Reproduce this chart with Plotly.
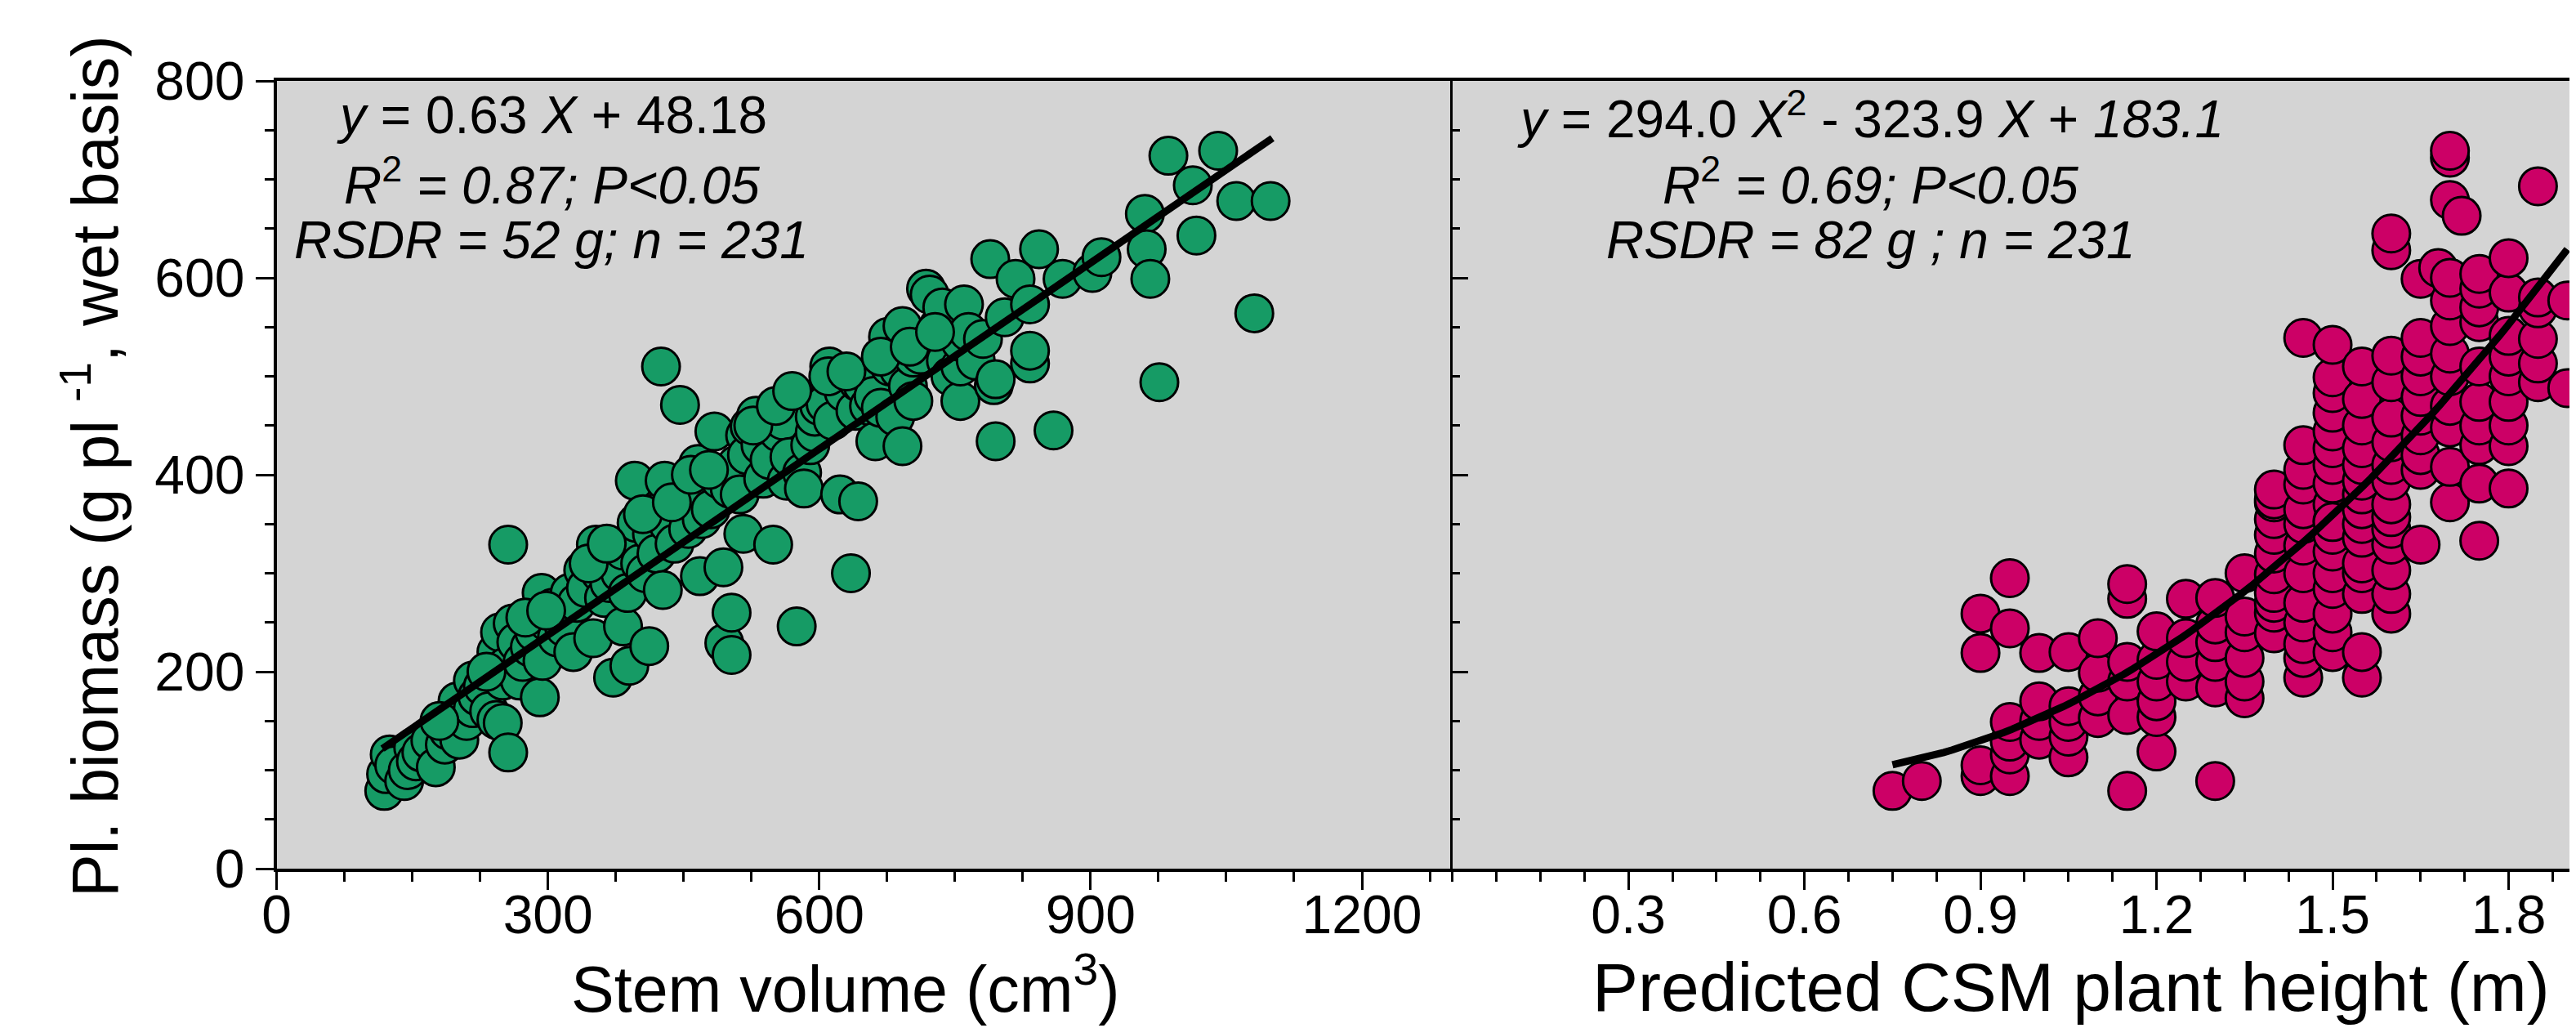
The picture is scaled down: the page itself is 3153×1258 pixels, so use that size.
import numpy as np
import plotly.graph_objects as go

# left panel: stem volume (cm3) vs plant biomass (g)
stem_volume = [119, 121, 125, 130, 141, 145, 151, 154, 160, 170, 176, 186, 190, 200, 202, 210, 217, 217,
               222, 228, 235, 243, 243, 247, 250, 250, 253, 256, 256, 261, 265, 269, 272, 280, 285, 291,
               293, 294, 300, 305, 310, 313, 318, 324, 328, 332, 339, 342, 350, 353, 358, 362, 368, 372,
               375, 380, 383, 383, 388, 390, 395, 396, 398, 402, 408, 412, 415, 420, 424, 427, 429, 433,
               440, 446, 450, 455, 460, 466, 468, 470, 475, 480, 484, 490, 494, 495, 501, 503, 503, 508,
               512, 516, 518, 520, 523, 530, 535, 538, 545, 549, 555, 560, 564, 567, 575, 581, 583, 590,
               595, 595, 600, 607, 611, 615, 623, 627, 635, 640, 643, 643, 648, 655, 660, 662, 668, 676,
               678, 684, 688, 692, 692, 698, 704, 704, 712, 718, 722, 724, 732, 736, 740, 745, 756, 756,
               756, 760, 765, 773, 781, 789, 793, 795, 795, 805, 817, 833, 833, 833, 843, 859, 869, 902,
               912, 960, 962, 966, 976, 986, 1013, 1017, 1041, 1061, 1081, 1099, 425,
               180, 232, 275, 298, 345, 365, 405, 437, 458, 478, 527, 552, 570, 610, 630, 668, 700, 728]
stem_biomass = [79, 96, 116, 105, 89, 100, 123, 109, 118, 130, 103, 126, 140, 170, 131, 150, 191, 163,
                175, 185, 160, 151, 220, 240, 148, 191, 205, 118, 329, 249, 230, 191, 210, 225, 240, 174,
                280, 211, 250, 265, 235, 260, 245, 280, 220, 270, 303, 285, 234, 329, 300, 275, 290, 194,
                315, 300, 246, 323, 280, 206, 335, 394, 351, 310, 300, 226, 340, 320, 363, 283, 394, 350,
                330, 471, 370, 345, 391, 411, 297, 355, 380, 365, 444, 395, 306, 229, 386, 260, 217, 410,
                380, 340, 440, 420, 449, 460, 430, 396, 415, 329, 443, 455, 394, 418, 246, 402, 386, 430,
                443, 459, 470, 472, 510, 455, 380, 484, 300, 465, 373, 494, 491, 470, 480, 434, 468, 540,
                510, 459, 507, 429, 551, 490, 475, 519, 522, 589, 583, 538, 551, 570, 516, 500, 475, 510,
                535, 573, 545, 516, 538, 619, 491, 434, 497, 560, 599, 573, 513, 526, 629, 445, 599, 605,
                621, 665, 629, 599, 494, 724, 694, 643, 729, 678, 564, 678, 510,
                150, 200, 255, 262, 310, 330, 360, 372, 400, 405, 450, 470, 485, 500, 505, 520, 530, 545]

# right panel: predicted CSM plant height (m) vs plant biomass (g)
csm_height = [0.75, 0.8, 0.9, 0.9, 0.9, 0.9, 0.95, 0.95, 0.95, 0.95, 0.95, 0.95, 1.0, 1.0, 1.0, 1.0,
              1.05, 1.05, 1.05, 1.05, 1.05, 1.1, 1.1, 1.1, 1.1, 1.15, 1.15, 1.15, 1.15, 1.15, 1.15,
              1.2, 1.2, 1.2, 1.2, 1.2, 1.2, 1.25, 1.25, 1.25, 1.25, 1.3, 1.3, 1.3, 1.3, 1.3, 1.3,
              1.35, 1.35, 1.35, 1.35, 1.35, 1.35, 1.4, 1.4, 1.4, 1.4, 1.4, 1.4, 1.4, 1.4, 1.4, 1.4, 1.4,
              1.45, 1.45, 1.45, 1.45, 1.45, 1.45, 1.45, 1.45, 1.45, 1.45, 1.45, 1.45, 1.45,
              1.5, 1.5, 1.5, 1.5, 1.5, 1.5, 1.5, 1.5, 1.5, 1.5, 1.5, 1.5, 1.5, 1.5, 1.5, 1.5, 1.5, 1.5,
              1.55, 1.55, 1.55, 1.55, 1.55, 1.55, 1.55, 1.55, 1.55, 1.55, 1.55, 1.55, 1.55, 1.55, 1.55,
              1.6, 1.6, 1.6, 1.6, 1.6, 1.6, 1.6, 1.6, 1.6, 1.6, 1.6, 1.6, 1.6, 1.6, 1.6,
              1.65, 1.65, 1.65, 1.65, 1.65, 1.65, 1.65, 1.65, 1.65, 1.65, 1.68,
              1.7, 1.7, 1.7, 1.7, 1.7, 1.7, 1.7, 1.7, 1.7, 1.7, 1.7, 1.7, 1.72,
              1.75, 1.75, 1.75, 1.75, 1.75, 1.75, 1.75, 1.75, 1.75, 1.75,
              1.8, 1.8, 1.8, 1.8, 1.8, 1.8, 1.8, 1.8, 1.8,
              1.85, 1.85, 1.85, 1.85, 1.85, 1.85, 1.9, 1.9]
csm_biomass = [79, 89, 94, 105, 219, 259, 94, 116, 129, 149, 244, 295, 131, 150, 170, 219,
               113, 134, 149, 165, 220, 153, 175, 199, 234, 79, 156, 190, 210, 274, 289,
               119, 154, 170, 190, 212, 241, 190, 210, 234, 274, 89, 184, 210, 230, 248, 275,
               173, 190, 214, 240, 256, 300, 239, 260, 270, 280, 299, 320, 339, 355, 372, 375, 385,
               194, 214, 228, 250, 270, 300, 328, 350, 365, 390, 405, 430, 539,
               220, 240, 259, 284, 300, 322, 339, 353, 370, 391, 410, 427, 444, 463, 483, 499, 532, 352,
               194, 220, 279, 300, 310, 336, 350, 365, 380, 394, 410, 427, 450, 477, 510,
               259, 279, 303, 329, 345, 357, 370, 394, 410, 433, 458, 494, 521, 628, 645,
               329, 405, 420, 440, 460, 479, 500, 520, 539, 599, 610,
               372, 408, 448, 470, 500, 523, 551, 577, 600, 679, 722, 729, 663,
               333, 391, 430, 450, 474, 510, 555, 570, 589, 604,
               386, 429, 450, 474, 500, 520, 541, 585, 620,
               494, 513, 538, 569, 580, 693, 488, 577]

# fitted equations
lin_slope, lin_icpt = 0.63, 48.18
quad_a, quad_b, quad_c = 294.0, -323.9, 183.1

FONT = "Liberation Sans, Arial, sans-serif"
GREEN = "#169B65"
PINK = "#CC0066"

W, H = 3153, 1258
x1_dom = [330.6 / W, 1769.7 / W]
x2_dom = [1769.7 / W, 1.0]
y_dom = [(H - 1055) / H, (H - 91) / H]

fig = go.Figure()

fig.add_trace(go.Scatter(
    x=stem_volume, y=stem_biomass, mode="markers", xaxis="x", yaxis="y",
    marker=dict(size=46, color=GREEN, line=dict(color="black", width=3)),
))
xl = np.linspace(117, 1101, 50)
fig.add_trace(go.Scatter(
    x=xl, y=lin_slope * xl + lin_icpt, mode="lines", xaxis="x", yaxis="y",
    line=dict(color="black", width=9),
))

fig.add_trace(go.Scatter(
    x=csm_height, y=csm_biomass, mode="markers", xaxis="x2", yaxis="y2",
    marker=dict(size=46, color=PINK, line=dict(color="black", width=3)),
))
xq = np.linspace(0.75, 1.9, 80)
fig.add_trace(go.Scatter(
    x=xq, y=quad_a * xq ** 2 + quad_b * xq + quad_c, mode="lines", xaxis="x2", yaxis="y2",
    line=dict(color="black", width=9),
))

tickfont = dict(family=FONT, size=66, color="black")
common_x = dict(
    showline=True, linecolor="black", linewidth=4, mirror=True,
    ticks="outside", ticklen=22, tickwidth=3, tickcolor="black",
    showgrid=False, zeroline=False, tickfont=tickfont, automargin=False,
    ticklabelstandoff=-26,
)

fig.update_layout(
    width=W, height=H,
    margin=dict(l=0, r=0, t=0, b=0),
    paper_bgcolor="white",
    plot_bgcolor="#D4D4D4",
    showlegend=False,
    xaxis=dict(domain=x1_dom, range=[0, 1300], tick0=0, dtick=300,
               minor=dict(dtick=75, tick0=0, ticks="outside", ticklen=12, tickwidth=3, tickcolor="black"),
               **common_x),
    xaxis2=dict(domain=x2_dom, range=[0, 1.926], anchor="y2",
                tickmode="array", tickvals=[0.3, 0.6, 0.9, 1.2, 1.5, 1.8],
                ticktext=["0.3", "0.6", "0.9", "1.2", "1.5", "1.8"],
                minor=dict(dtick=0.075, tick0=0, ticks="outside", ticklen=12, tickwidth=3, tickcolor="black"),
                **common_x),
    yaxis=dict(domain=y_dom, range=[0, 800], tick0=0, dtick=200,
               showline=True, linecolor="black", linewidth=4,
               ticks="outside", ticklen=22, tickwidth=3, tickcolor="black",
               minor=dict(dtick=50, tick0=0, ticks="outside", ticklen=11, tickwidth=3, tickcolor="black"),
               showgrid=False, zeroline=False, tickfont=tickfont, automargin=False),
    yaxis2=dict(domain=y_dom, range=[0, 800], anchor="x2", tick0=0, dtick=200,
                showline=True, linecolor="black", linewidth=2.5,
                ticks="inside", ticklen=20, tickwidth=3, tickcolor="black",
                minor=dict(dtick=50, tick0=0, ticks="inside", ticklen=10, tickwidth=3, tickcolor="black"),
                showticklabels=False, showgrid=False, zeroline=False, automargin=False),
)

afont = dict(family=FONT, size=64, color="black")
left_lines = [
    "<i>y</i> = 0.63 <i>X</i> + 48.18",
    "<i>R</i><sup>2</sup><i> = 0.87; P&lt;0.05</i>",
    "<i>RSDR = 52 g; n = 231</i>",
]
right_lines = [
    "<i>y</i> = 294.0 <i>X</i><sup>2</sup> - 323.9 <i>X</i> + <i>183.1</i>",
    "<i>R</i><sup>2</sup><i> = 0.69; P&lt;0.05</i>",
    "<i>RSDR = 82 g ; n = 231</i>",
]
line_y = [765, 698, 638]
for txt, yy in zip(left_lines, line_y):
    fig.add_annotation(x=304, y=yy, xref="x", yref="y", text=txt, showarrow=False,
                       xanchor="center", yanchor="middle", font=afont)
for txt, yy in zip(right_lines, line_y):
    fig.add_annotation(x=0.713, y=yy, xref="x2", yref="y2", text=txt, showarrow=False,
                       xanchor="center", yanchor="middle", font=afont)

tfont = dict(family=FONT, size=79, color="black")
fig.add_annotation(x=1027 / W, y=(H - 1197) / H, xref="paper", yref="paper",
                   text="Stem volume (cm<sup>3</sup>)", showarrow=False,
                   xanchor="center", yanchor="middle", font=tfont)
fig.add_annotation(x=2527 / W, y=(H - 1200) / H, xref="paper", yref="paper",
                   text="Predicted CSM plant height (m)", showarrow=False,
                   xanchor="center", yanchor="middle", font=dict(family=FONT, size=84, color="black"))
fig.add_annotation(x=103 / W, y=(H - 563) / H, xref="paper", yref="paper",
                   text="Pl. biomass (g pl <sup>-1</sup>, wet basis)", showarrow=False,
                   textangle=-90, xanchor="center", yanchor="middle", font=tfont)

fig.write_html("out.html")
